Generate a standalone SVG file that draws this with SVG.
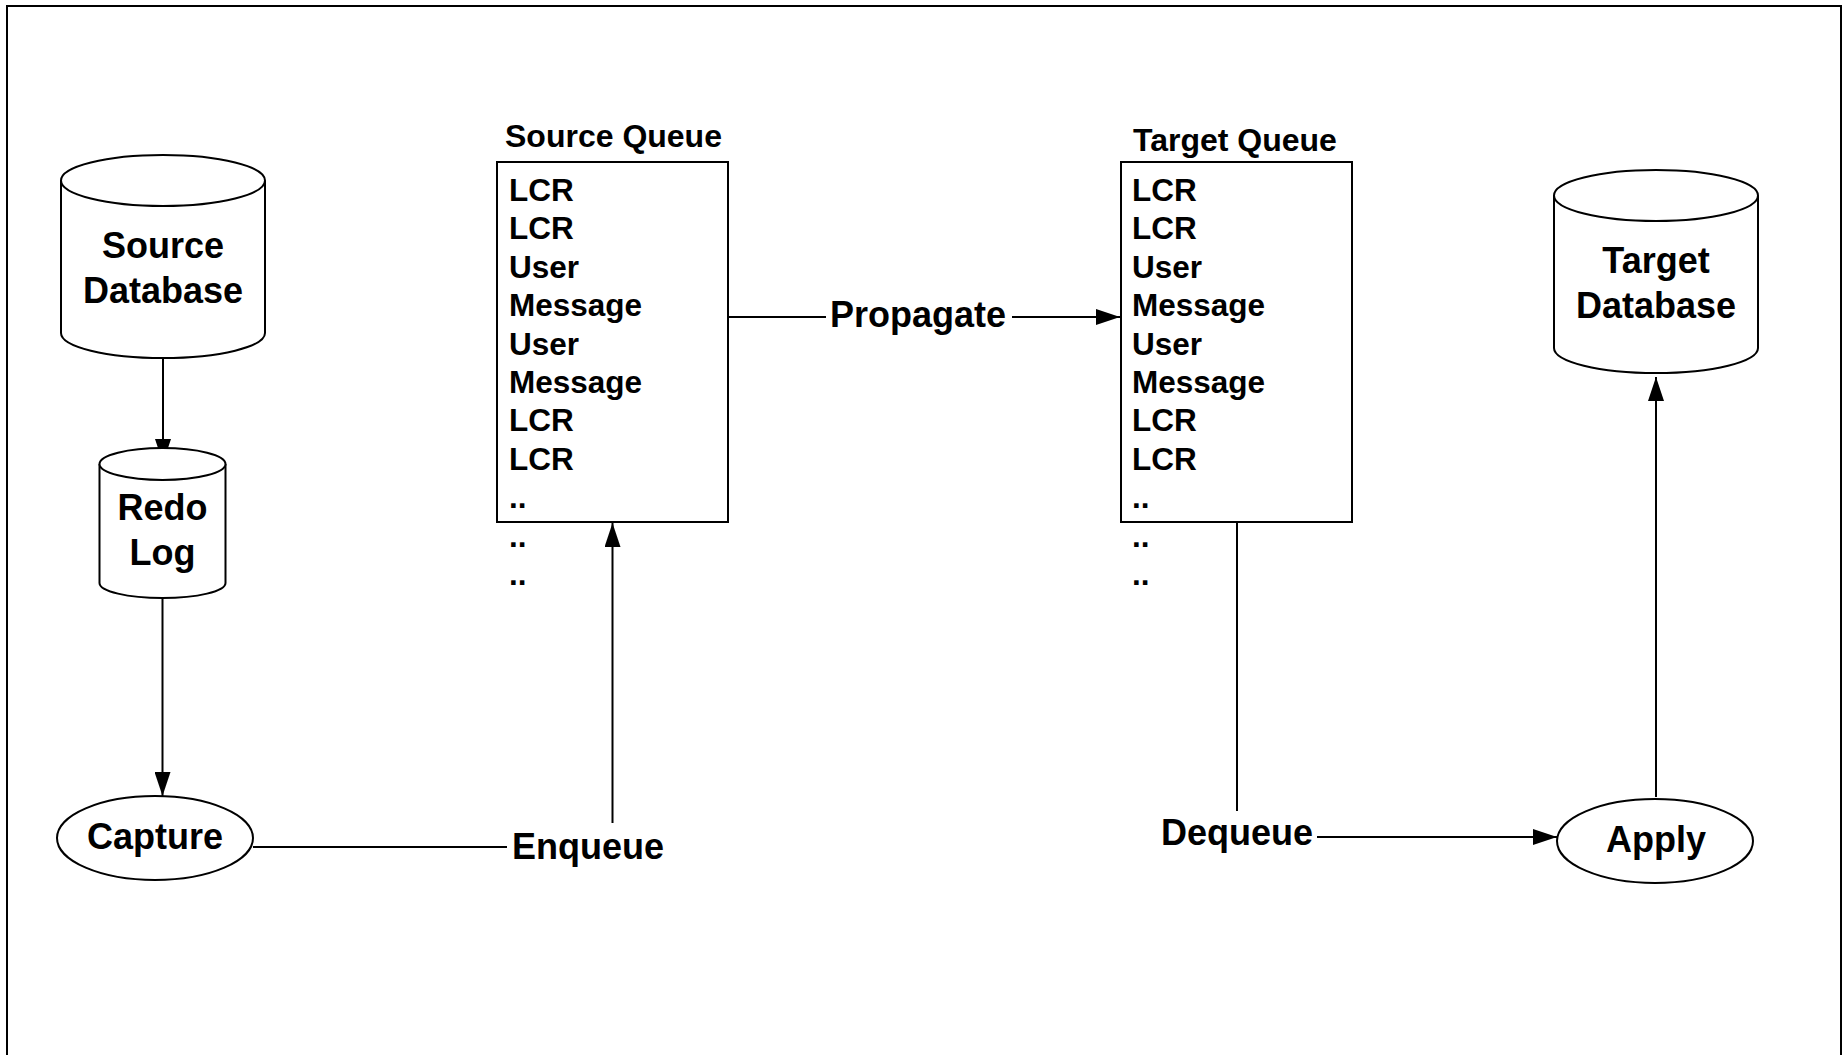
<svg xmlns="http://www.w3.org/2000/svg" width="1843" height="1055" viewBox="0 0 1843 1055">
  <style>
    .shape { fill: #ffffff; stroke: #000000; stroke-width: 2; }
    .edge { fill: none; stroke: #000000; stroke-width: 2; }
    .big { font-family: "Liberation Sans", Arial, sans-serif; font-weight: bold; font-size: 36px; fill: #000000; }
    .title { font-family: "Liberation Sans", Arial, sans-serif; font-weight: bold; font-size: 32px; fill: #000000; }
    .item { font-family: "Liberation Sans", Arial, sans-serif; font-weight: bold; font-size: 31.5px; fill: #000000; }
    .mid { text-anchor: middle; }
  </style>
  <defs>
    <marker id="arrow" viewBox="0 0 24 16" refX="24" refY="8" markerWidth="24" markerHeight="16" markerUnits="userSpaceOnUse" orient="auto">
      <path d="M0,0 L24,8 L0,16 Z" fill="#000000"/>
    </marker>
  </defs>

  <rect x="0" y="0" width="1843" height="1055" fill="#ffffff"/>

  <!-- outer frame, open at the bottom -->
  <path class="edge" d="M7,1060 V6 H1841 V1060"/>

  <!-- connectors -->
  <g id="connectors">
    <line class="edge" x1="163" y1="358" x2="163" y2="463" marker-end="url(#arrow)"/>
    <line class="edge" x1="162.5" y1="598" x2="162.5" y2="796" marker-end="url(#arrow)"/>
    <line class="edge" x1="253" y1="847" x2="507" y2="847"/>
    <line class="edge" x1="612.5" y1="823" x2="612.5" y2="523" marker-end="url(#arrow)"/>
    <line class="edge" x1="728" y1="317" x2="826" y2="317"/>
    <line class="edge" x1="1012" y1="317" x2="1120" y2="317" marker-end="url(#arrow)"/>
    <line class="edge" x1="1237" y1="522" x2="1237" y2="811"/>
    <line class="edge" x1="1317" y1="837" x2="1557" y2="837" marker-end="url(#arrow)"/>
    <line class="edge" x1="1656" y1="797" x2="1656" y2="377" marker-end="url(#arrow)"/>
    <text class="big" x="830" y="327">Propagate</text>
    <text class="big" x="512" y="859">Enqueue</text>
    <text class="big" x="1161" y="845">Dequeue</text>
  </g>

  <!-- Source Database cylinder -->
  <g id="source-database">
    <path class="shape" d="M61,180.5 V333 A102,25 0 0 0 265,333 V180.5"/>
    <ellipse class="shape" cx="163" cy="180.5" rx="102" ry="25.5"/>
    <text class="big mid" x="163" y="258">Source</text>
    <text class="big mid" x="163" y="303">Database</text>
  </g>

  <!-- Redo Log cylinder -->
  <g id="redo-log">
    <path class="shape" d="M99.5,464 V583 A63,15 0 0 0 225.5,583 V464"/>
    <ellipse class="shape" cx="162.5" cy="464" rx="63" ry="16"/>
    <text class="big mid" x="162.5" y="520">Redo</text>
    <text class="big mid" x="162.5" y="565">Log</text>
  </g>

  <!-- Capture process -->
  <g id="capture">
    <ellipse class="shape" cx="155" cy="838" rx="98" ry="42"/>
    <text class="big mid" x="155" y="849">Capture</text>
  </g>

  <!-- Source Queue -->
  <g id="source-queue">
    <text class="title" x="505" y="147">Source Queue</text>
    <rect class="shape" x="497" y="162" width="231" height="360"/>
    <text class="item" x="509" y="201">LCR</text>
    <text class="item" x="509" y="239.4">LCR</text>
    <text class="item" x="509" y="277.8">User</text>
    <text class="item" x="509" y="316.2">Message</text>
    <text class="item" x="509" y="354.6">User</text>
    <text class="item" x="509" y="393">Message</text>
    <text class="item" x="509" y="431.4">LCR</text>
    <text class="item" x="509" y="469.8">LCR</text>
    <text class="item" x="509" y="508.2">..</text>
    <text class="item" x="509" y="546.6">..</text>
    <text class="item" x="509" y="585">..</text>
  </g>

  <!-- Target Queue -->
  <g id="target-queue">
    <text class="title" x="1133" y="151">Target Queue</text>
    <rect class="shape" x="1121" y="162" width="231" height="360"/>
    <text class="item" x="1132" y="201">LCR</text>
    <text class="item" x="1132" y="239.4">LCR</text>
    <text class="item" x="1132" y="277.8">User</text>
    <text class="item" x="1132" y="316.2">Message</text>
    <text class="item" x="1132" y="354.6">User</text>
    <text class="item" x="1132" y="393">Message</text>
    <text class="item" x="1132" y="431.4">LCR</text>
    <text class="item" x="1132" y="469.8">LCR</text>
    <text class="item" x="1132" y="508.2">..</text>
    <text class="item" x="1132" y="546.6">..</text>
    <text class="item" x="1132" y="585">..</text>
  </g>

  <!-- Apply process -->
  <g id="apply">
    <ellipse class="shape" cx="1655" cy="841" rx="98" ry="42"/>
    <text class="big mid" x="1656" y="852">Apply</text>
  </g>

  <!-- Target Database cylinder -->
  <g id="target-database">
    <path class="shape" d="M1554,195.5 V348 A102,25 0 0 0 1758,348 V195.5"/>
    <ellipse class="shape" cx="1656" cy="195.5" rx="102" ry="25.5"/>
    <text class="big mid" x="1656" y="273">Target</text>
    <text class="big mid" x="1656" y="318">Database</text>
  </g>
</svg>
